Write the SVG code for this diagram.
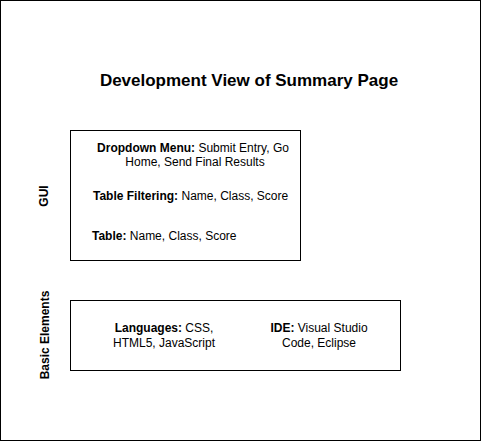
<svg xmlns="http://www.w3.org/2000/svg" width="481" height="441" viewBox="0 0 481 441">
  <style>
    text { font-family: "Liberation Sans", Arial, sans-serif; fill: #000; }
    .t { font-size: 12px; }
    .b { font-weight: bold; }
    .box { fill: #fff; stroke: #000; stroke-width: 1; }
  </style>
  <rect x="0.5" y="0.5" width="480" height="440" fill="#fff" stroke="#000"/>
  <text x="249" y="86" font-size="17" class="b" text-anchor="middle">Development View of Summary Page</text>

  <g id="gui">
    <text class="t b" transform="translate(48,196) rotate(-90)" text-anchor="middle">GUI</text>
    <rect class="box" x="70.5" y="130.5" width="230" height="130"/>
    <text class="t" x="193" y="152" text-anchor="middle"><tspan class="b">Dropdown Menu:</tspan> Submit Entry, Go</text>
    <text class="t" x="195" y="166" text-anchor="middle">Home, Send Final Results</text>
    <text class="t" x="93" y="200"><tspan class="b">Table Filtering:</tspan> Name, Class, Score</text>
    <text class="t" x="92" y="240"><tspan class="b">Table:</tspan> Name, Class, Score</text>
  </g>

  <g id="basic-elements">
    <text class="t b" transform="translate(49,335) rotate(-90)" text-anchor="middle">Basic Elements</text>
    <rect class="box" x="70.5" y="300.5" width="330" height="70"/>
    <text class="t" x="164" y="332" text-anchor="middle"><tspan class="b">Languages:</tspan> CSS,</text>
    <text class="t" x="164" y="347" text-anchor="middle">HTML5, JavaScript</text>
    <text class="t" x="319" y="332" text-anchor="middle"><tspan class="b">IDE:</tspan> Visual Studio</text>
    <text class="t" x="319" y="347" text-anchor="middle">Code, Eclipse</text>
  </g>

  <g id="connectors"></g>
</svg>
